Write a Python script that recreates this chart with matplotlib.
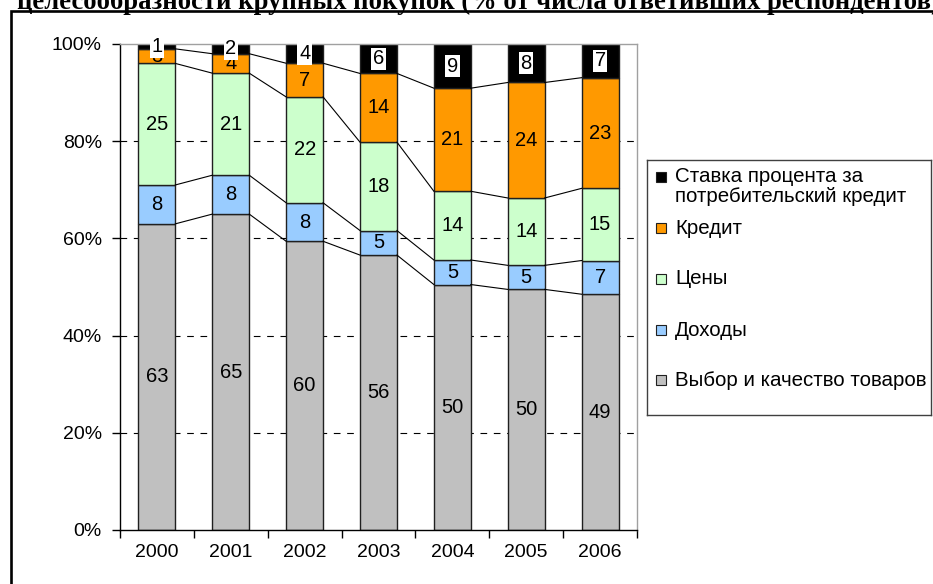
import numpy as np
import matplotlib.pyplot as plt
from matplotlib.patches import Rectangle

plt.rcParams['font.family'] = ['Liberation Sans', 'DejaVu Sans']

years = ["2000", "2001", "2002", "2003", "2004", "2005", "2006"]
series_names = [
    "Выбор и качество товаров",
    "Доходы",
    "Цены",
    "Кредит",
    "Ставка процента за\nпотребительский кредит",
]
choice = [63, 65, 60, 56, 50, 50, 49]
income = [8, 8, 8, 5, 5, 5, 7]
prices = [25, 21, 22, 18, 14, 14, 15]
credit = [3, 4, 7, 14, 21, 24, 23]
rate = [1, 2, 4, 6, 9, 8, 7]
colors = ["#C0C0C0", "#99CCFF", "#CCFFCC", "#FF9900", "#000000"]
title = "целесообразности крупных покупок (% от числа ответивших респондентов)"

W, H = 933, 584
fig = plt.figure(figsize=(W / 100, H / 100), dpi=100)

# outer frame of the chart (cut off at the right and bottom)
fig.add_artist(Rectangle((11 / W, -0.2), 1.5, 1.2 - 11 / H, transform=fig.transFigure,
                         fill=False, edgecolor="black", linewidth=1.9))
fig.text(17 / W, 1 - 9 / H, title, family=["Liberation Serif", "DejaVu Serif"],
         fontweight="bold", fontsize=19.2, ha="left", va="baseline")

ax = fig.add_axes([120 / W, 1 - 530 / H, (637 - 120) / W, (530 - 44) / H])

data = np.array([choice, income, prices, credit, rate], dtype=float)
pct = data / data.sum(axis=0) * 100
x = np.arange(len(years))
bw = 0.5

bottom = np.zeros(len(years))
tops = []
for i, (vals, col) in enumerate(zip(pct, colors)):
    ax.bar(x, vals, bw, bottom=bottom, color=col, edgecolor="#202020",
           linewidth=1.0, zorder=2)
    for xi, b, v, raw in zip(x, bottom, vals, data[i]):
        if i == 4:
            ax.text(xi, b + v / 2, f"{raw:.0f}", ha="center", va="center",
                    fontsize=14.5, zorder=6,
                    bbox=dict(boxstyle="square,pad=0.08", fc="white", ec="none"))
        else:
            ax.text(xi, b + v / 2, f"{raw:.0f}", ha="center", va="center",
                    fontsize=14.5, zorder=5)
    bottom = bottom + vals
    tops.append(bottom.copy())

# series lines between neighbouring bars
for t in tops[:-1]:
    for j in range(len(years) - 1):
        ax.plot([x[j] + bw / 2, x[j + 1] - bw / 2], [t[j], t[j + 1]],
                color="black", linewidth=0.8, zorder=3)

ax.set_xlim(-0.5, len(years) - 0.5)
ax.set_ylim(0, 100)
ax.set_yticks(np.arange(0, 101, 20))
ax.set_yticklabels([f"{v}%" for v in range(0, 101, 20)], fontsize=14)
ax.set_xticks(np.arange(-0.5, len(years), 1.0))
ax.set_xticklabels([])
ax.set_xticks(x, minor=True)
ax.set_xticklabels(years, minor=True, fontsize=14)
ax.tick_params(axis="x", which="major", length=6, width=1, direction="out")
ax.tick_params(axis="x", which="minor", length=0, pad=10)
ax.tick_params(axis="y", length=6, width=1, direction="out", pad=7)

for yv in range(20, 100, 20):
    ax.axhline(yv, color="black", linewidth=0.8, linestyle=(0, (6, 6)), zorder=1)

ax.spines["left"].set_color("black")
ax.spines["bottom"].set_color("black")
ax.spines["top"].set_color("#A0A0A0")
ax.spines["right"].set_color("#A0A0A0")
for s in ax.spines.values():
    s.set_linewidth(1.0)

# legend box
lax = fig.add_axes([647 / W, 1 - 415 / H, (931 - 647) / W, (415 - 160) / H])
lax.set_xlim(647, 931)
lax.set_ylim(415, 160)
lax.set_xticks([])
lax.set_yticks([])
for s in lax.spines.values():
    s.set_color("#404040")
    s.set_linewidth(1.0)
entry_y = [380, 330, 279, 228, 177]
for name, col, yy in zip(series_names, colors, entry_y):
    lax.add_patch(Rectangle((656, yy - 5), 10, 10, facecolor=col,
                            edgecolor="#202020", linewidth=0.8))
    for k, line in enumerate(name.split("\n")):
        lax.text(675, yy + 20 * k, line, fontsize=14.8, ha="left", va="center")

fig.savefig("out.png", dpi=100)
